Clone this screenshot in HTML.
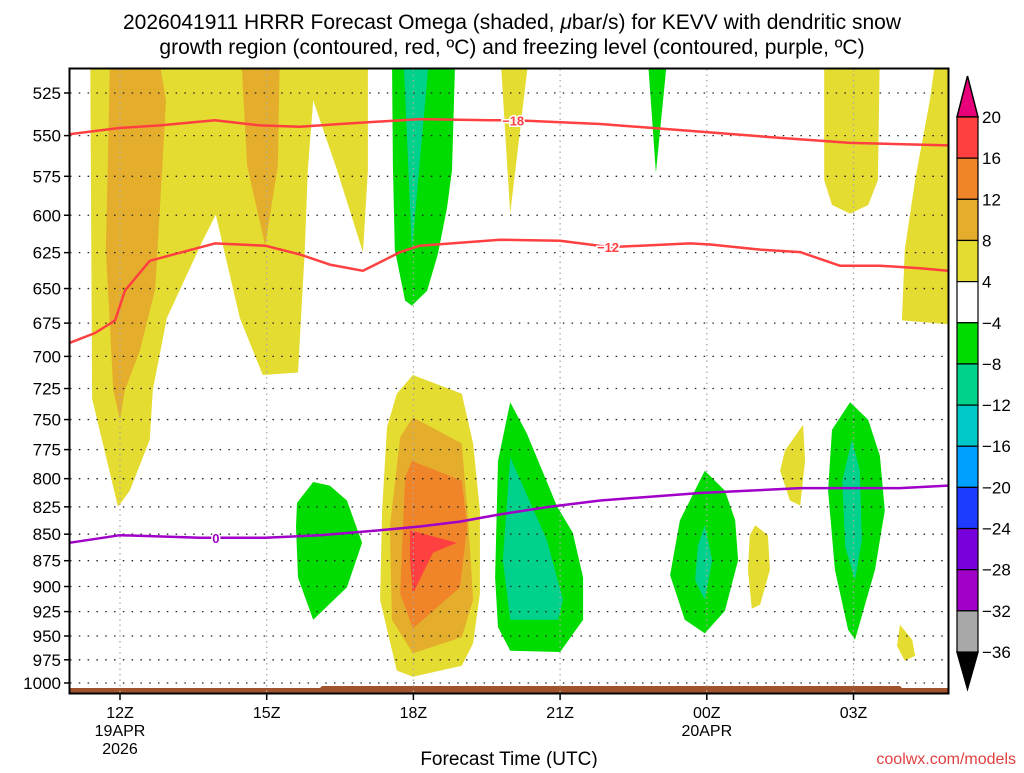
<!DOCTYPE html>
<html><head><meta charset="utf-8"><style>
body{margin:0;background:#fff;}
svg text{font-family:"Liberation Sans","DejaVu Sans",sans-serif;}
</style></head><body>
<svg id="chart" width="1024" height="768" xmlns="http://www.w3.org/2000/svg">
<text x="512" y="29" font-size="21" text-anchor="middle">2026041911 HRRR Forecast Omega (shaded, <tspan font-style="italic">μ</tspan>bar/s) for KEVV with dendritic snow</text>
<text x="512" y="54" font-size="21" text-anchor="middle">growth region (contoured, red, ºC) and freezing level (contoured, purple, ºC)</text>
<defs><clipPath id="pc"><rect x="70" y="69" width="879" height="625"/></clipPath></defs>
<g id="shades" clip-path="url(#pc)"></g>
<g id="grid"></g>
<g id="lines" clip-path="url(#pc)"></g>
<g id="axes"></g>
<g id="cbar"></g>
<text x="509" y="765" font-size="19" text-anchor="middle">Forecast Time (UTC)</text>
<text x="1016" y="764" font-size="16" fill="#e04040" text-anchor="end">coolwx.com/models</text>
</svg>
<script>
const pressureTicks=[525,550,575,600,625,650,675,700,725,750,775,800,825,850,875,900,925,950,975,1000];
const timeTicks=[12,15,18,21,24,27];
const timeLabels=["12Z","15Z","18Z","21Z","00Z","03Z"];
const dateLabels={12:["19APR","2026"],24:["20APR"]};
const cbarLevels=[20,16,12,8,4,-4,-8,-12,-16,-20,-24,-28,-32,-36];
const cbarColors=["#ff4040","#f08428","#e4ae2c","#e4dc30","#ffffff","#00dc00","#00d28c","#00c8c8","#00a0ff","#1e3cff","#7800dc","#a000c8","#a8a8a8"];
const Y="#e4dc30",O1="#e4ae2c",O2="#f08428",R="#ff4040",G="#00dc00",T="#00d28c";
const shadeColors=[Y,O1,O1,G,T,Y,G,Y,Y,G,Y,O1,O2,R,G,T,G,T,Y,Y,G,T,Y];
const shapes=[
[[11.39,500],[11.43,733],[11.96,825],[12.2,810.5],[12.61,766.6],[12.67,726.2],[12.96,671.2],[13.70,616.2],[13.96,599.7],[14.45,671.2],[14.92,714.4],[15.64,712.4],[15.78,622.9],[15.84,571.2],[15.95,529.3],[16.44,571.2],[16.95,622.9],[16.97,624.6],[17.07,571.2],[17.07,500]],
[[11.80,500],[11.75,568.1],[11.71,622.9],[11.80,680.4],[11.86,726.2],[12,750.2],[12.1,726.2],[12.41,695.3],[12.72,650.6],[12.86,571.2],[12.94,529.3],[12.76,500]],
[[14.47,500],[14.60,568.1],[14.97,620.3],[15.23,568.1],[15.27,500]],
[[17.56,500],[17.58,568.1],[17.62,622.9],[17.83,658.6],[17.97,662.2],[18.28,651.5],[18.50,626.3],[18.69,594.9],[18.79,571.2],[18.86,500]],
[[17.79,500],[17.97,622.9],[18.34,500]],
[[19.77,500],[19.98,598.9],[20.38,500]],
[[22.78,500],[22.96,572.8],[23.21,500]],
[[26.40,500],[26.40,577.4],[26.56,593.3],[26.93,598.9],[27.30,593.3],[27.50,577.4],[27.54,500]],
[[28.71,500],[28.56,529.3],[28.26,577.4],[28.05,622.9],[27.99,673.0],[29.2,676.7],[29.2,500]],
[[15.62,821.5],[15.95,802.9],[16.29,806.1],[16.64,819.3],[16.95,858],[16.64,900.9],[15.95,933.2],[15.64,891.3],[15.60,842.9]],
[[17.99,714.4],[18.99,729.1],[19.22,769.8],[19.36,828.3],[19.36,907],[19.22,957.7],[18.99,981.4],[17.99,993.3],[17.66,986.6],[17.32,913.3],[17.36,828.3],[17.46,756.3],[17.66,729.1]],
[[17.99,748.2],[18.99,769.8],[19.12,837.3],[19.22,913.3],[18.99,951.2],[17.99,968],[17.56,933.2],[17.52,842.9],[17.73,764.5]],
[[17.97,784.6],[18.99,801.8],[19.10,842.9],[18.95,900.9],[17.99,942.2],[17.73,907],[17.83,798.6]],
[[17.93,846.3],[18.89,858],[18.40,867.4],[17.99,907],[17.93,874.4]],
[[19.98,736],[20.32,761.4],[20.94,824.9],[21.26,848.7],[21.47,891.3],[21.47,933.2],[21.0,966.7],[19.98,965.4],[19.73,940.8],[19.67,891.3],[19.73,784.6]],
[[19.98,781.4],[20.73,855.7],[21.06,913.3],[20.96,933.2],[19.98,933.2],[19.83,874.4]],
[[23.96,793.1],[24.37,810.5],[24.58,837.3],[24.64,874.4],[24.37,924.3],[23.96,947.3],[23.55,933.2],[23.25,888.9],[23.45,837.3]],
[[23.96,841.8],[24.11,874.4],[23.96,913.3],[23.76,893.7],[23.82,860.4]],
[[24.99,841.8],[25.25,851],[25.29,883.7],[25.09,918.2],[24.92,922],[24.84,883.7],[24.88,851]],
[[25.97,754.3],[26.01,784.6],[25.91,823.8],[25.70,819.3],[25.50,793.1],[25.60,775.8]],
[[26.93,736],[27.30,750.2],[27.54,780.3],[27.64,828.3],[27.44,883.7],[27.03,953.8],[26.89,943.5],[26.62,883.7],[26.48,810.5],[26.56,758.4]],
[[26.97,766.6],[27.13,793.1],[27.17,855.7],[27.03,893.7],[26.83,862.1],[26.77,801.8]],
[[27.95,938.3],[28.20,953.8],[28.26,970.7],[28.05,976.1],[27.89,960.3]]
];
const line18H=[10.98,12,12.82,13.94,14.86,15.68,16.5,18.13,19.57,20.08,21.82,23.86,25.50,26.93,28.93];
const line18P=[549.1,545.4,543.9,540.9,543.9,544.7,543.1,540.2,540.9,540.9,543.1,547.6,551.4,554.4,555.9];
const line12H=[10.98,11.49,11.90,12.1,12.61,13.94,14.97,15.68,16.29,16.97,17.73,18.13,19.77,21,22.02,23.66,24.07,25.09,25.91,26.72,27.54,28.36,28.93];
const line12P=[689.6,682.3,673.0,651.5,630.6,618.7,620.3,626.3,633.2,637.5,624.6,620.3,616.2,617,621.2,618.7,619.5,622.9,624.6,634,634,635.8,637.5];
const line0H=[10.98,12,13.64,14.97,16.09,17.32,18.13,18.95,19.77,20.79,21.82,22.84,23.86,24.88,25.91,26.93,27.95,28.93];
const line0P=[858,851,853.4,853.4,851,846.3,842.9,838.4,831.8,824.9,819.3,815.9,812.6,810.5,808.3,808.3,808.3,806.1];
const NS="http://www.w3.org/2000/svg";
function x(h){return 120+(h-12)*48.9;}
function y(p){return 93+915.6*Math.log(p/525);}
function mk(tag,attrs,parent){const e=document.createElementNS(NS,tag);for(const k in attrs)e.setAttribute(k,attrs[k]);parent.appendChild(e);return e;}
const sh=document.getElementById('shades');
shapes.forEach((s,i)=>{
  const e=mk('polygon',{points:s.map(q=>x(q[0]).toFixed(1)+','+y(q[1]).toFixed(1)).join(' '),fill:shadeColors[i]},sh);
  
  
});
const gnd=mk('path',{d:`M70 688 L320 688 L322 686 L900 686 L902 688 L949 688 L949 694 L70 694 Z`,fill:'#a0522d'},sh);


const gr=document.getElementById('grid');
pressureTicks.forEach(p=>{
  const e=mk('line',{x1:70,x2:949,y1:y(p),y2:y(p),stroke:'#222','stroke-width':1.3,'stroke-dasharray':'1.5 7.3'},gr);
  
  
});
timeTicks.forEach(h=>{
  const e=mk('line',{x1:x(h),x2:x(h),y1:69,y2:694,stroke:'#aaa','stroke-width':1.3,'stroke-dasharray':'1.5 4'},gr);
  
  
});
const ln=document.getElementById('lines');
function drawLine(H,P,color,name){
  const e=mk('polyline',{points:H.map((h,i)=>x(h).toFixed(1)+','+y(P[i]).toFixed(1)).join(' '),fill:'none',stroke:color,'stroke-width':2.5,'stroke-linejoin':'round'},ln);
  
  
}
drawLine(line18H,line18P,'#ff4040','contour-minus18');
drawLine(line12H,line12P,'#ff4040','contour-minus12');
drawLine(line0H,line0P,'#a000c8','freezing-level-0');
function label(h,p,t,c,name){
  const e=mk('text',{x:x(h),y:y(p)+5,'font-size':13,'font-weight':'bold',fill:c,'text-anchor':'middle',stroke:'#fff','stroke-width':3,'paint-order':'stroke'},ln);
  e.textContent=t;
  
  
}
label(20.04,540.9,'−18','#ff4040','label-minus18');
label(21.98,621.2,'−12','#ff4040','label-minus12');
label(13.96,853.4,'0','#a000c8','label-0');
const ax=document.getElementById('axes');
const fr=mk('rect',{x:69.5,y:68.5,width:879,height:625,fill:'none',stroke:'#000','stroke-width':2},ax);


pressureTicks.forEach(p=>{
  mk('line',{x1:64,x2:70,y1:y(p),y2:y(p),stroke:'#000','stroke-width':1.5},ax);
  const t=mk('text',{x:61,y:y(p)+6,'font-size':17,'text-anchor':'end'},ax);
  t.textContent=p;
  
  
});
timeTicks.forEach((h,i)=>{
  mk('line',{x1:x(h),x2:x(h),y1:694,y2:700,stroke:'#000','stroke-width':1.5},ax);
  const t=mk('text',{x:x(h),y:718,'font-size':16,'text-anchor':'middle'},ax);
  t.textContent=timeLabels[i];
  
  
  (dateLabels[h]||[]).forEach((d,j)=>{
    const u=mk('text',{x:x(h),y:736+j*18,'font-size':16,'text-anchor':'middle'},ax);
    u.textContent=d;
    
    
  });
});
const cb=document.getElementById('cbar');
const cx=957,cw=21,ct=117,bh=(652-117)/13;
mk('polygon',{points:`${cx},${ct} ${cx+cw},${ct} ${cx+cw/2},76`,fill:'#e8007a',stroke:'#000','stroke-width':1.5},cb);
mk('polygon',{points:`${cx},652 ${cx+cw},652 ${cx+cw/2},689`,fill:'#000',stroke:'#000','stroke-width':1.5},cb);
cbarColors.forEach((c,i)=>{
  const r=mk('rect',{x:cx,y:ct+i*bh,width:cw,height:bh,fill:c,stroke:'#000','stroke-width':1.2},cb);
  
  
});
cbarLevels.forEach((v,i)=>{
  const t=mk('text',{x:982,y:ct+i*bh+6,'font-size':17},cb);
  t.textContent=v<0?'−'+(-v):String(v);
  
  
});
</script>
</body></html>
